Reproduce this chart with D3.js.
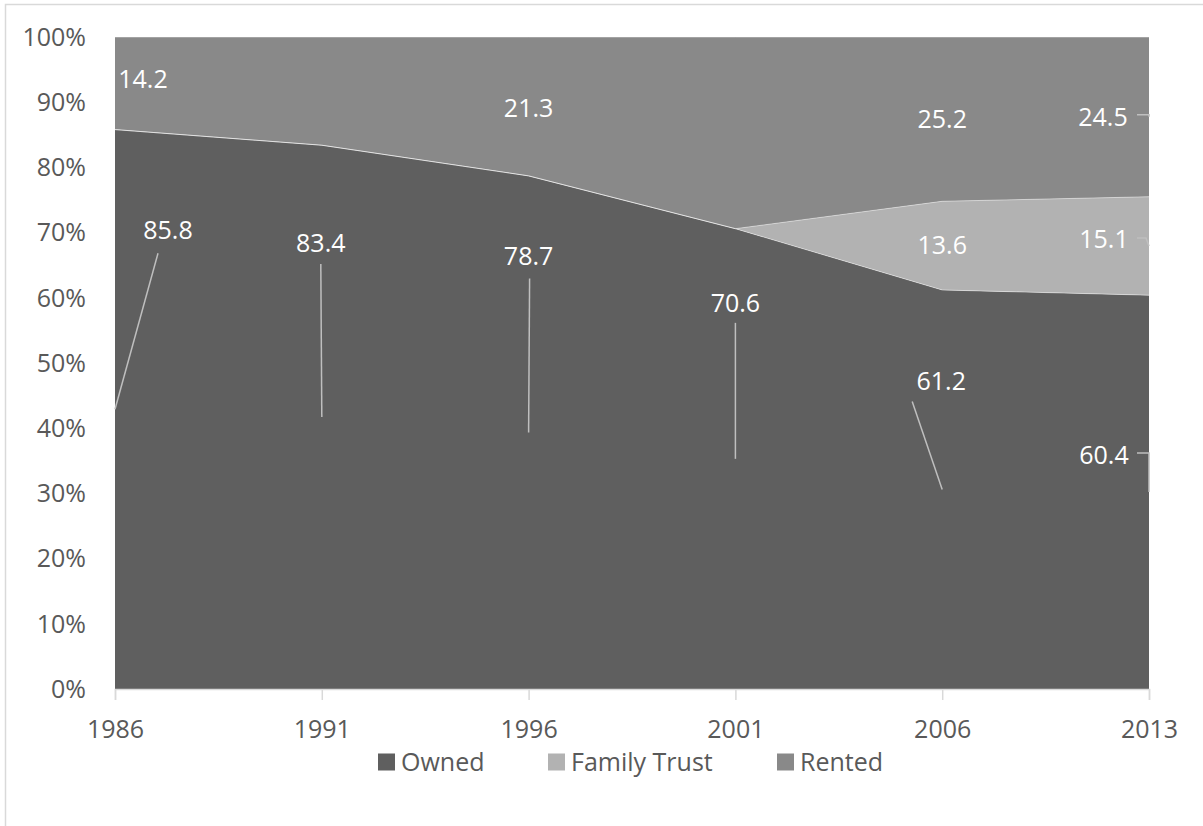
<!DOCTYPE html>
<html>
<head>
<meta charset="utf-8">
<script src="https://cdn.jsdelivr.net/npm/d3@7"></script>
<style>
  html, body { margin: 0; padding: 0; background: #fff; }
  svg { display: block; font-family: "Open Sans", sans-serif; }
</style>
</head>
<body>
<svg id="chart" width="1203" height="826"></svg>
<script>
// data (percent of total)
const years = ["1986", "1991", "1996", "2001", "2006", "2013"];
const owned = [85.8, 83.4, 78.7, 70.6, 61.2, 60.4];
const familyTrust = [0, 0, 0, 0, 13.6, 15.1];
const rented = [14.2, 16.6, 21.3, 29.4, 25.2, 24.5];
const yTicks = [0, 10, 20, 30, 40, 50, 60, 70, 80, 90, 100];

const seriesNames = ["Owned", "Family Trust", "Rented"];
const seriesColors = ["#5f5f5f", "#b2b2b2", "#898989"];

// which data labels are shown, and where they sit relative to the segment midpoint
// [index, dx, dy, leader start/bend points relative to the anchor]
const labelLayout = {
  "Owned": [
    [0, 53, -179, [[43, -156]]],
    [1, -1, -174, [[-1, -153]]],
    [2, 0, -176, [[1, -154]]],
    [3, 0, -156, [[0, -136]]],
    [4, -1, -108, [[-30, -88]]],
    [5, -45, -37, [[-12, -39], [0, -39]]]
  ],
  "Family Trust": [
    [4, 0, 0, null],
    [5, -45, -7, [[-12, -8], [-3, -8]]]
  ],
  "Rented": [
    [0, 28, -4, null],
    [2, 0, 2, null],
    [4, 0, 0, null],
    [5, -46, 0, [[-12, -2], [0, -2]]]
  ]
};

const svg = d3.select("#chart");
const width = 1203, height = 826;
const margin = { top: 37, right: 54, bottom: 137, left: 115 };
const fontSize = 25;

// outer chart frame
svg.append("rect")
  .attr("x", 5.5).attr("y", 4.5)
  .attr("width", width + 20).attr("height", height + 20)
  .attr("fill", "#fff")
  .attr("stroke", "#d9d9d9")
  .attr("stroke-width", 1.5);

const x = d3.scalePoint().domain(years).range([margin.left, width - margin.right]);
const y = d3.scaleLinear().domain([0, 100]).range([height - margin.bottom, margin.top]);

const table = years.map((yr, i) => ({
  year: yr,
  "Owned": owned[i],
  "Family Trust": familyTrust[i],
  "Rented": rented[i]
}));

const stacked = d3.stack().keys(seriesNames)(table);

const area = d3.area()
  .x(d => x(d.data.year))
  .y0(d => y(d[0]))
  .y1(d => y(d[1]));

const topLine = d3.line()
  .x(d => x(d.data.year))
  .y(d => y(d[1]));

svg.append("g")
  .selectAll("path")
  .data(stacked)
  .join("path")
  .attr("d", area)
  .attr("fill", (d, i) => seriesColors[i]);

svg.append("g")
  .selectAll("path")
  .data(stacked)
  .join("path")
  .attr("d", topLine)
  .attr("fill", "none")
  .attr("stroke", "#ffffff")
  .attr("stroke-opacity", 0.45)
  .attr("stroke-width", 1);

// y axis labels (no axis line)
svg.append("g")
  .selectAll("text")
  .data(yTicks)
  .join("text")
  .attr("x", margin.left - 29)
  .attr("y", d => y(d))
  .attr("dy", "0.35em")
  .attr("text-anchor", "end")
  .attr("font-size", fontSize)
  .attr("fill", "#595959")
  .text(d => d + "%");

// x axis
const xAxis = svg.append("g")
  .attr("transform", `translate(0,${height - margin.bottom})`)
  .call(d3.axisBottom(x).tickSize(11).tickPadding(20));
xAxis.select(".domain").attr("stroke", "#d9d9d9").attr("stroke-width", 1.5);
xAxis.selectAll(".tick line").attr("stroke", "#d9d9d9").attr("stroke-width", 1.5);
xAxis.selectAll(".tick text")
  .attr("font-size", fontSize)
  .attr("font-family", "Open Sans, sans-serif")
  .attr("fill", "#595959");

// data labels with leader lines
const labelsG = svg.append("g");
stacked.forEach((s, si) => {
  const name = seriesNames[si];
  (labelLayout[name] || []).forEach(([idx, dx, dy, leader]) => {
    const d = s[idx];
    const ax = x(d.data.year);
    const ay = y((d[0] + d[1]) / 2);
    if (leader) {
      const pts = leader.map(([px, py]) => [ax + px, ay + py]).concat([[ax, ay]]);
      labelsG.append("path")
        .attr("d", d3.line()(pts))
        .attr("fill", "none")
        .attr("stroke", "#bfbfbf")
        .attr("stroke-width", 1.5);
    }
    labelsG.append("text")
      .attr("x", ax + dx)
      .attr("y", ay + dy)
      .attr("dy", "0.35em")
      .attr("text-anchor", "middle")
      .attr("font-size", fontSize)
      .attr("fill", "#ffffff")
      .text(d3.format(".1f")(d.data[name]));
  });
});

// legend
const legendX = [378, 548, 777];
const legend = svg.append("g")
  .selectAll("g")
  .data(seriesNames)
  .join("g")
  .attr("transform", (d, i) => `translate(${legendX[i]},762)`);
legend.append("rect")
  .attr("x", 0).attr("y", -8.5)
  .attr("width", 17).attr("height", 17)
  .attr("fill", (d, i) => seriesColors[i]);
legend.append("text")
  .attr("x", 23)
  .attr("dy", "0.35em")
  .attr("font-size", fontSize)
  .attr("fill", "#595959")
  .text(d => d);
</script>
</body>
</html>
